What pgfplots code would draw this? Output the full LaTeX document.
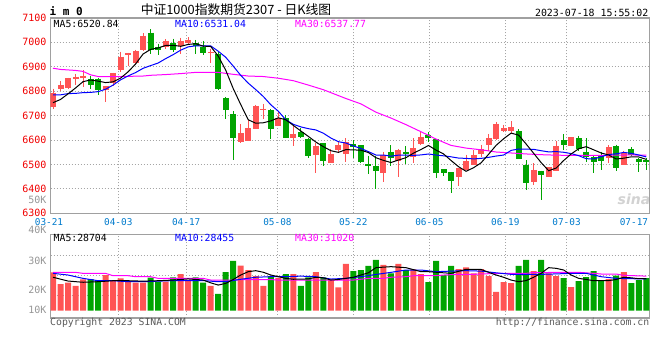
\documentclass[border=0pt]{standalone}
\usepackage{fontspec}
\usepackage{pgfplots}
\usepackage{pgfplotstable}
\pgfplotsset{compat=1.18}
\newfontfamily\mono{DejaVu Sans Mono}
\newfontfamily\cjk{Noto Sans CJK SC}
\newfontfamily\wm{DejaVu Sans}
\definecolor{upc}{RGB}{255,84,84}
\definecolor{dnc}{RGB}{0,164,0}
\definecolor{framec}{RGB}{160,160,160}
\definecolor{gridc}{RGB}{165,165,165}
\definecolor{pricered}{RGB}{240,0,0}
\definecolor{dateblue}{RGB}{0,122,204}
\definecolor{volgray}{RGB}{150,150,150}
\definecolor{maten}{RGB}{0,0,255}
\definecolor{mathirty}{RGB}{255,0,255}
\definecolor{copyc}{RGB}{90,90,90}

\pgfplotstableread{
i o h l c
0 6736 6810 6729 6793
1 6808 6841 6800 6826
2 6812 6856 6808 6852
3 6851 6871 6827 6860
4 6856 6886 6816 6864
7 6804 6823 6756 6822
8 6833 6876 6823 6875
9 6885 6962 6879 6941
10 6947 6958 6905 6955
11 6916 6970 6912 6963
12 6969 7037 6964 7027
15 6982 7012 6973 7006
17 6984 7019 6951 7006
18 6999 7020 6992 7010
21 6955 6974 6914 6960
25 6592 6666 6588 6627
26 6597 6681 6597 6649
27 6647 6744 6647 6740
28 6721 6748 6688 6729
30 6659 6718 6658 6690
32 6610 6663 6575 6625
35 6540 6588 6464 6575
37 6504 6564 6504 6542
38 6559 6595 6553 6579
39 6544 6608 6510 6592
44 6466 6551 6427 6537
46 6514 6564 6448 6559
48 6529 6608 6505 6567
49 6584 6636 6578 6612
54 6447 6485 6412 6485
55 6478 6540 6478 6514
56 6499 6559 6497 6537
57 6544 6581 6529 6564
58 6578 6625 6556 6608
59 6605 6674 6601 6667
60 6638 6663 6633 6649
61 6638 6677 6630 6653
64 6427 6505 6416 6478
66 6449 6488 6448 6488
67 6474 6595 6474 6577
69 6577 6612 6577 6612
74 6526 6579 6505 6571
76 6499 6556 6496 6547
}\upk

\pgfplotstableread{
i o h l c
5 6851 6864 6807 6827
6 6851 6853 6786 6803
13 7040 7053 6951 6970
14 6982 6995 6948 6970
16 6999 7015 6962 6967
19 6999 7010 6953 6985
20 6981 7006 6948 6955
22 6953 6962 6806 6810
23 6773 6777 6688 6721
24 6707 6718 6519 6608
29 6723 6727 6605 6647
31 6690 6701 6610 6610
33 6633 6649 6608 6614
34 6604 6608 6526 6536
36 6586 6586 6495 6515
40 6582 6599 6526 6570
41 6579 6579 6504 6508
42 6501 6536 6460 6495
43 6495 6533 6399 6474
45 6551 6578 6492 6526
47 6551 6575 6501 6542
50 6619 6633 6592 6608
51 6604 6604 6444 6464
52 6481 6481 6452 6464
53 6468 6468 6384 6433
62 6636 6645 6523 6523
63 6499 6518 6396 6426
65 6475 6475 6355 6458
68 6599 6625 6559 6581
70 6608 6618 6556 6564
71 6553 6608 6512 6530
72 6529 6537 6464 6512
73 6536 6553 6478 6515
75 6575 6581 6474 6484
77 6562 6571 6533 6540
78 6522 6526 6471 6512
79 6518 6526 6478 6510
}\dnk

\pgfplotstableread{
i ma5 ma10
0 6753 6785
1 6766 6785
2 6789 6790
3 6813 6791
4 6839.0 6794
5 6845.8 6795
6 6841.2 6798
7 6835.2 6808
8 6838.2 6825
9 6853.6 6846.3
10 6879.2 6862.5
11 6911.2 6876.2
12 6952.2 6893.7
13 6971.2 6904.7
14 6977.0 6915.3
15 6987.1 6933.2
16 6987.9 6949.6
17 6983.6 6967.9
18 6991.5 6981.4
19 6994.5 6985.8
20 6984.4 6985.7
21 6983.0 6985.4
22 6943.8 6963.7
23 6886.0 6938.8
24 6810.6 6902.6
25 6745.1 6864.7
26 6682.9 6832.9
27 6668.9 6806.4
28 6670.6 6778.3
29 6678.3 6744.4
30 6690.9 6718.0
31 6683.0 6682.9
32 6660.0 6664.4
33 6637.0 6653.8
34 6614.8 6646.5
35 6591.7 6641.3
36 6572.8 6627.9
37 6556.3 6608.2
38 6549.5 6593.2
39 6560.7 6587.7
40 6559.7 6575.7
41 6558.3 6565.5
42 6548.7 6552.5
43 6527.6 6538.6
44 6516.7 6538.7
45 6507.9 6533.8
46 6518.1 6538.2
47 6527.7 6538.2
48 6546.3 6537.0
49 6561.3 6539.0
50 6577.7 6542.8
51 6558.8 6538.5
52 6543.2 6535.4
53 6516.3 6531.3
54 6490.9 6526.1
55 6472.0 6524.9
56 6486.6 6522.7
57 6506.6 6524.9
58 6541.6 6529.0
59 6578.0 6534.4
60 6605.1 6538.5
61 6628.3 6557.5
62 6620.1 6563.3
63 6583.7 6562.6
64 6545.9 6561.9
65 6507.6 6556.3
66 6474.4 6551.4
67 6485.2 6552.6
68 6516.1 6549.9
69 6543.0 6544.4
70 6564.3 6536.0
71 6572.8 6523.6
72 6559.9 6522.6
73 6546.8 6531.5
74 6538.6 6540.8
75 6522.4 6543.4
76 6525.7 6549.3
77 6531.2 6545.6
78 6530.6 6538.7
79 6520.84 6531.04
}\mama

\pgfplotstableread{
i v
0 34.4
1 23.9
2 25.1
3 22.2
4 28.2
7 32.0
8 27.5
9 29.1
10 26.0
11 25.1
12 25.1
15 26.0
17 32.9
18 27.5
21 22.2
25 40.4
26 36.5
27 31.1
28 22.2
30 29.3
32 32.9
35 34.7
37 27.5
38 21.0
39 41.9
44 41.0
46 41.9
48 37.1
49 32.9
54 37.4
55 38.9
56 33.5
57 37.4
58 31.1
59 16.8
60 25.7
61 24.8
64 35.6
66 33.5
67 31.1
69 21.2
74 28.4
76 34.7
}\upv

\pgfplotstableread{
i v
5 28.4
6 26.6
13 29.6
14 26.0
16 30.0
19 30.0
20 25.1
22 15.0
23 34.7
24 44.6
29 31.1
31 32.9
33 22.2
34 30.0
36 30.0
40 35.6
41 36.5
42 40.1
43 45.5
45 33.5
47 36.5
50 25.7
51 44.6
52 32.0
53 40.1
62 40.1
63 45.5
65 45.5
68 29.3
70 26.6
71 30.2
72 35.6
73 27.5
75 31.4
77 24.8
78 27.5
79 29.3
}\dnv

\begin{document}
\begin{tikzpicture}
\path[use as bounding box] (0pt,0pt) rectangle (660pt,360pt);
% watermark
\node[text=gray!35, font=\wm\bfseries\itshape\fontsize{14}{14}\selectfont] at (634pt,161pt) {sina};

\begin{axis}[
  at={(50.5pt,146.7pt)}, anchor=south west,
  width=599pt, height=195.4pt, scale only axis,
  xmin=-0.333, xmax=79.43, ymin=6300, ymax=7100,
  axis line style={draw=framec, line width=1.3pt},
  tick style={draw=none},
  ytick={6300,6400,6500,6600,6700,6800,6900,7000,7100},
  yticklabels={6300,6400,6500,6600,6700,6800,6900,7000,7100},
  yticklabel style={font=\mono\fontsize{10}{12}\selectfont, text=pricered, anchor=east, inner sep=0pt, xshift=-3.8pt},
  xtick={8.695,17.74,29.89,39.99,50.13,60.24,68.38},
  xticklabels={04-03,04-17,05-08,05-22,06-05,06-19,07-03},
  extra x ticks={77.36}, extra x tick labels={07-17},
  extra x tick style={grid=none},
  xticklabel style={font=\mono\fontsize{9.4}{11}\selectfont, text=dateblue, anchor=center, inner sep=0pt, yshift=-8.4pt},
  xmajorgrids, ymajorgrids,
  major grid style={draw=gridc, line width=0.8pt, dash pattern=on 1pt off 2pt},
]
% wicks
\addplot[draw=none, mark=none, forget plot, error bars/.cd, y dir=minus, y explicit, error mark=none,
  error bar style={draw=upc, line width=1pt, solid}]
  table[x=i, y=h, y error minus expr=\thisrow{h}-\thisrow{l}] {\upk};
\addplot[draw=none, mark=none, forget plot, error bars/.cd, y dir=minus, y explicit, error mark=none,
  error bar style={draw=dnc, line width=1pt, solid}]
  table[x=i, y=h, y error minus expr=\thisrow{h}-\thisrow{l}] {\dnk};
% bodies
\addplot[draw=none, mark=none, forget plot, error bars/.cd, y dir=minus, y explicit, error mark=none,
  error bar style={draw=upc, line width=6pt, solid}]
  table[x=i, y=c, y error minus expr=\thisrow{c}-\thisrow{o}] {\upk};
\addplot[draw=none, mark=none, forget plot, error bars/.cd, y dir=minus, y explicit, error mark=none,
  error bar style={draw=dnc, line width=6pt, solid}]
  table[x=i, y=o, y error minus expr=\thisrow{o}-\thisrow{c}] {\dnk};
% MA30
\addplot[mathirty, line width=1pt, mark=none] coordinates {
(0,6894)(1,6889)(2,6887)(3,6885)(4,6881)(5,6867)(6,6860)(9,6860)(12,6862)(13,6865)(15,6868)(17,6872)(19,6877)(22,6877)(24,6869)(26,6862)(28,6860)(30,6853)(32,6843)(34,6825)(36,6806)(38,6782)(39,6770)(41,6748)(43,6714)(45,6690)(47,6663)(49,6634)(51,6604)(53,6578)(55,6567)(57,6560)(59,6551)(61,6547)(63,6543)(65,6540)(67,6538)(69,6537)(72,6537)(75,6538)(77,6539)(79,6537.77)};
\addplot[maten, line width=1pt, mark=none] table[x=i, y=ma10] {\mama};
\addplot[black, line width=1pt, mark=none] table[x=i, y=ma5] {\mama};
\end{axis}

\begin{axis}[
  at={(50.5pt,42pt)}, anchor=south west,
  width=599pt, height=83.3pt, scale only axis,
  xmin=-0.333, xmax=79.43, ymin=-6.55, ymax=68.16,
  axis line style={draw=framec, line width=1.3pt},
  tick style={draw=none},
  xtick={8.695,17.74,29.89,39.99,50.13,60.24,68.38},
  xticklabels={},
  xmajorgrids,
  ytick={0.6,18.6,44.8}, yticklabels={10K,20K,30K},
  yticklabel style={font=\mono\fontsize{10}{12}\selectfont, text=volgray, anchor=east, inner sep=0pt, xshift=-3.8pt},
  extra y ticks={13.8,32.0,49.96}, extra y tick labels={},
  extra y tick style={grid=major},
  major grid style={draw=gridc, line width=0.8pt, dash pattern=on 1pt off 2pt},
]
\addplot[ybar, bar width=6pt, bar shift=0pt, fill=upc, draw=none] table[x=i, y=v] {\upv};
\addplot[ybar, bar width=6pt, bar shift=0pt, fill=dnc, draw=none] table[x=i, y=v] {\dnv};
% volume MA30
\addplot[mathirty, line width=1pt, mark=none] coordinates {
(0,34.4)(3,34.4)(4,33.5)(7,33.5)(8,31.4)(10,31.4)(11,30.5)(13,30.5)(14,29)(20,29)(21,27.5)(24,27.5)(25,27.9)(29,27.9)(30,27.5)(40,27.5)(42,29)(44,29)(45,30)(47,30.5)(48,31.4)(51,31.4)(52,32)(54,32.6)(56,32.6)(57,33)(60,33.5)(63,33.5)(64,34.2)(70,34.4)(72,33.5)(73,32.9)(75,32.9)(76,31.7)(79,31.02)};
% volume MA10
\addplot[maten, line width=1pt, mark=none] coordinates {
(0,33.5)(2,32)(4,29)(6,26.9)(8,26.9)(10,26)(12,26)(14,26.5)(16,27)(18,27)(20,27)(22,26)(23,26)(25,28.2)(27,30)(29,30.5)(31,30.5)(33,31)(35,30.5)(37,28.4)(39,29)(41,30.5)(43,32.5)(45,34.4)(47,36.5)(49,36.5)(51,35)(53,35.5)(55,35.9)(57,35.5)(59,34)(61,32.6)(63,32.6)(65,32.6)(67,33)(69,33.5)(71,33.5)(73,30.5)(75,29)(77,28.7)(79,28.46)};
% volume MA5
\addplot[black, line width=1pt, mark=none] coordinates {
(0,30.0)(2,26.6)(4,25.5)(6,26)(8,26.9)(10,26.9)(12,26.5)(14,26.9)(16,27.5)(18,28.5)(20,27.5)(21,25)(22,23)(23,24.5)(24,28)(25,32)(26,35)(27,35.9)(28,34.5)(29,32)(30,30.5)(31,29)(32,28.2)(34,28.5)(35,30)(36,29.5)(37,27.5)(38,28)(40,30)(42,34)(43,38.6)(45,39.5)(47,38.6)(49,35)(50,35)(52,34)(53,33.5)(55,37.1)(57,37)(59,32)(60,30)(61,27.5)(62,26)(63,27)(64,30)(65,33.5)(66,38.6)(67,38)(68,36.5)(69,32)(70,29)(71,28)(72,26.9)(74,27)(75,28)(76,30)(77,29.5)(78,28.7)(79,28.7)};
\end{axis}

% header texts
\node[anchor=base west, inner sep=0pt, font=\mono\bfseries\fontsize{11}{12}\selectfont] at (49.5pt,345pt) {i m 0};
\node[anchor=base, inner sep=0pt, font=\cjk\fontsize{12.8}{14}\selectfont] at (236pt,345.3pt) {中证1000指数期货2307 - 日K线图};
\node[anchor=base east, inner sep=0pt, font=\mono\fontsize{9.9}{12}\selectfont] at (648.5pt,344pt) {2023-07-18 15:55:02};
% MA legends, price panel
\node[anchor=base west, inner sep=0pt, font=\mono\fontsize{9.8}{12}\selectfont] at (53.5pt,332.1pt) {MA5:6520.84};
\node[anchor=base west, inner sep=0pt, text=maten, font=\mono\fontsize{9.8}{12}\selectfont] at (175pt,332.1pt) {MA10:6531.04};
\node[anchor=base west, inner sep=0pt, text=mathirty, font=\mono\fontsize{9.8}{12}\selectfont] at (295pt,332.1pt) {MA30:6537.77};
% MA legends, volume panel
\node[anchor=base west, inner sep=0pt, font=\mono\fontsize{9.8}{12}\selectfont] at (53.5pt,118.1pt) {MA5:28704};
\node[anchor=base west, inner sep=0pt, text=maten, font=\mono\fontsize{9.8}{12}\selectfont] at (175pt,118.1pt) {MA10:28455};
\node[anchor=base west, inner sep=0pt, text=mathirty, font=\mono\fontsize{9.8}{12}\selectfont] at (295pt,118.1pt) {MA30:31020};
% extra labels
\node[anchor=center, inner sep=0pt, text=dateblue, font=\mono\fontsize{9.4}{11}\selectfont] at (49pt,138.3pt) {03-21};
\node[anchor=east, inner sep=0pt, text=volgray, font=\mono\fontsize{10}{12}\selectfont] at (46.7pt,160pt) {50K};
\node[anchor=east, inner sep=0pt, text=volgray, font=\mono\fontsize{10}{12}\selectfont] at (46.7pt,130pt) {40K};
% footer
\node[anchor=base west, inner sep=0pt, text=copyc, font=\mono\fontsize{9.8}{12}\selectfont] at (50pt,34.3pt) {Copyright 2023 SINA.COM};
\node[anchor=base east, inner sep=0pt, text=copyc, font=\mono\fontsize{9.8}{12}\selectfont] at (649.5pt,34.3pt) {http://finance.sina.com.cn};
\end{tikzpicture}
\end{document}
